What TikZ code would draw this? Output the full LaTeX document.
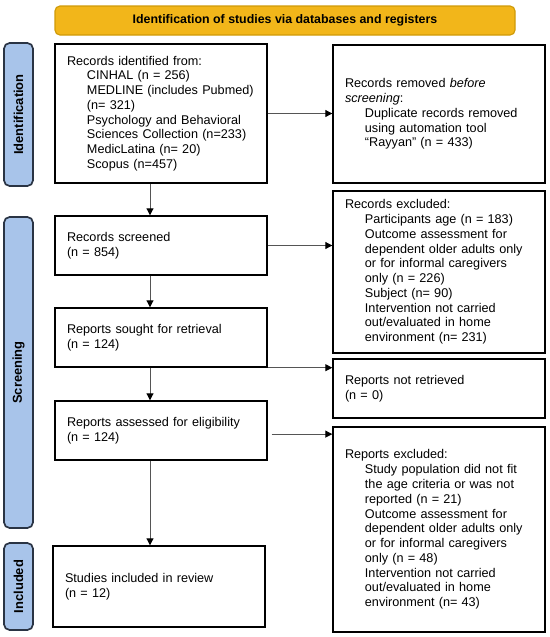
\documentclass[tikz,border=0pt]{standalone}
\usepackage{fontspec}
\setmainfont{Liberation Sans}
\usepackage{tikz}
\usepackage{xcolor}
\usetikzlibrary{arrows.meta, positioning, calc}
\definecolor{PrismaGold}{HTML}{F2B61A}
\definecolor{PrismaGoldDark}{HTML}{CF9A08}
\definecolor{PrismaBlue}{HTML}{A8C4EA}
\definecolor{PrismaNavy}{HTML}{2A3444}
\definecolor{PrismaBlack}{HTML}{000000}
\definecolor{PrismaGray}{HTML}{555555}
\newcommand{\ind}{\hspace*{14.2pt}}
\tikzset{
    banner/.style={
        draw=PrismaGoldDark,
        fill=PrismaGold,
        rounded corners=3.5pt,
        line width=0.8pt,
        minimum width=11.5cm,
        minimum height=0.725cm,
        text=PrismaBlack,
        font=\fontsize{8.8}{10}\selectfont\bfseries,
        align=center
    },
    sidelabel/.style={
        draw=PrismaNavy,
        fill=PrismaBlue,
        rounded corners=4pt,
        line width=1.2pt,
        minimum width=#1,
        minimum height=0.725cm,
        rotate=90,
        text=PrismaBlack,
        font=\fontsize{9.2}{10}\selectfont\bfseries,
        inner sep=0pt
    },
    flowbox/.style={
        draw=PrismaBlack,
        fill=white,
        line width=1pt,
        text width=4.7cm,
        inner xsep=0.3cm,
        inner ysep=0pt,
        minimum height=#1,
        text=PrismaBlack,
        font=\fontsize{9}{10.5}\selectfont,
        align=left
    },
    flowbox/.default=1.475cm,
    arrow/.style={
        -{Triangle[length=5pt,width=5pt,color=PrismaBlack]},
        line width=0.7pt,
        PrismaGray
    }
}

\begin{document}
\begin{tikzpicture}
        \useasboundingbox (0,0) rectangle (13.75,-15.925);

        % Header
        \node[banner] (banner) at (7.125,-0.5125) {Identification of studies via databases and registers};

        % Phase labels
        \node[sidelabel=3.575cm] (identlbl) at (0.4625,-2.8625) {Identification};
        \node[sidelabel=7.775cm] (screenlbl) at (0.4625,-9.3125) {Screening};
        \node[sidelabel=2.175cm] (incllbl) at (0.4625,-14.6625) {Included};

        % Identification
        \node[flowbox=3.475cm] (recid) at (4.025,-2.8375) {
            Records identified from:\\
            \ind CINHAL (n = 256)\\
            \ind MEDLINE (includes Pubmed)\\
            \ind (n= 321)\\
            \ind Psychology and Behavioral\\
            \ind Sciences Collection (n=233)\\
            \ind MedicLatina (n= 20)\\
            \ind Scopus (n=457)
        };
        \node[flowbox=3.45cm] (removed) at (10.975,-2.85) {
            Records removed \textit{before}\\
            \textit{screening}:\\
            \ind Duplicate records removed\\
            \ind using automation tool\\
            \ind “Rayyan” (n = 433)
        };

        % Screening
        \node[flowbox] (screened) at (4.025,-6.1375) {
            Records screened\\
            (n = 854)
        };
        \node[flowbox=4.05cm] (excluded) at (10.975,-6.8) {
            Records excluded:\\
            \ind Participants age (n = 183)\\
            \ind Outcome assessment for\\
            \ind dependent older adults only\\
            \ind or for informal caregivers\\
            \ind only (n = 226)\\
            \ind Subject (n= 90)\\
            \ind Intervention not carried\\
            \ind out/evaluated in home\\
            \ind environment (n= 231)
        };
        \node[flowbox] (sought) at (4.025,-8.4375) {
            Reports sought for retrieval\\
            (n = 124)
        };
        \node[flowbox] (notretr) at (10.975,-9.7125) {
            Reports not retrieved\\
            (n = 0)
        };
        \node[flowbox] (assessed) at (4.025,-10.7625) {
            Reports assessed for eligibility\\
            (n = 124)
        };
        \node[flowbox=5.125cm] (repexcl) at (10.975,-13.2375) {
            Reports excluded:\\
            \ind Study population did not fit\\
            \ind the age criteria or was not\\
            \ind reported (n = 21)\\
            \ind Outcome assessment for\\
            \ind dependent older adults only\\
            \ind or for informal caregivers\\
            \ind only (n = 48)\\
            \ind Intervention not carried\\
            \ind out/evaluated in home\\
            \ind environment (n= 43)
        };

        % Included
        \node[flowbox=2.025cm] (included) at (3.975,-14.6625) {
            Studies included in review\\
            (n = 12)
        };

        % Downward arrows
        \draw[arrow] ([xshift=-0.275cm]recid.south) -- ([xshift=-0.275cm]screened.north);
        \draw[arrow] ([xshift=-0.275cm]screened.south) -- ([xshift=-0.275cm]sought.north);
        \draw[arrow] ([xshift=-0.275cm]sought.south) -- ([xshift=-0.275cm]assessed.north);
        \draw[arrow] ([xshift=-0.275cm]assessed.south) -- ([xshift=-0.275cm]assessed.south |- included.north);

        % Side arrows
        \draw[arrow] (recid.east) -- (recid.east -| removed.west);
        \draw[arrow] (screened.east) -- (screened.east -| excluded.west);
        \draw[arrow] (sought.south east) -- (sought.south east -| notretr.west);
        \draw[arrow] ([xshift=0.1cm,yshift=-0.09cm]assessed.east) -- ([yshift=-0.09cm]assessed.east -| repexcl.west);
    \end{tikzpicture}
\end{document}
